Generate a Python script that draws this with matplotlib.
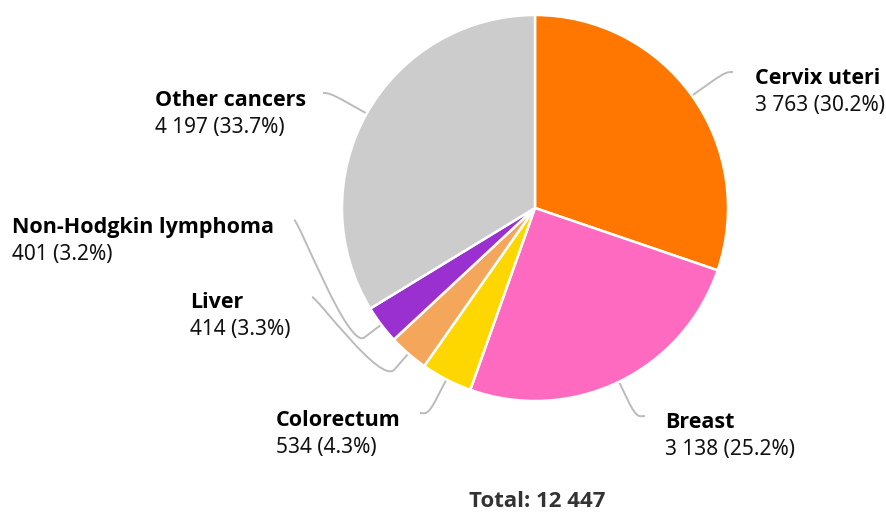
import numpy as np
import matplotlib
matplotlib.use("Agg")
import matplotlib.pyplot as plt
from matplotlib.path import Path
from matplotlib.patches import PathPatch

plt.rcParams['font.family'] = ['Noto Sans', 'DejaVu Sans']
BOLD_FONT = ['Open Sans', 'DejaVu Sans']

# ---- data ----
categories = ["Cervix uteri", "Breast", "Colorectum", "Liver",
              "Non-Hodgkin lymphoma", "Other cancers"]
values = [3763, 3138, 534, 414, 401, 4197]
colors = ["#FF7700", "#FF6AC1", "#FFD700", "#F4A65A", "#9A30D0", "#CCCCCC"]
total = sum(values)

# ---- layout (pixel coords, y from top) ----
W, H = 887, 513
center_px = (535, 208)
radius = 193
# connector end at label side, label text anchor (x, y of first line), alignment
label_layout = {
    "Cervix uteri": ((733, 72), (755, 78), "left"),
    "Breast": ((645, 416), (665, 423), "left"),
    "Colorectum": ((420, 413), (276, 420), "right"),
    "Liver": ((312, 297), (190, 302), "right"),
    "Non-Hodgkin lymphoma": ((294, 220), (12, 227), "right"),
    "Other cancers": ((323, 93), (155, 100), "right"),
}
line_gap = 27
break_dist = 21


def fy(y):
    return H - y


def fmt(n):
    return f"{n:,}".replace(",", " ")


fig = plt.figure(figsize=(W / 100, H / 100), dpi=100)
ax = fig.add_axes([0, 0, 1, 1])
cx, cy = center_px[0], fy(center_px[1])
wedges, _ = ax.pie(values, colors=colors, startangle=90, counterclock=False,
                   center=(cx, cy), radius=radius,
                   wedgeprops=dict(edgecolor="white", linewidth=1.8))
ax.set_xlim(0, W)
ax.set_ylim(0, H)
ax.set_aspect('equal', adjustable='box')
ax.axis('off')

for wdg, cat, val in zip(wedges, categories, values):
    mid = np.deg2rad((wdg.theta1 + wdg.theta2) / 2)
    ux, uy = np.cos(mid), np.sin(mid)
    tx, ty = cx + radius * ux, cy + radius * uy
    bx, by = cx + (radius + break_dist) * ux, cy + (radius + break_dist) * uy
    (lx, lyp), (textx, textyp), align = label_layout[cat]
    ly = fy(lyp)
    c1x = lx + (-5 if align == "left" else 5)
    verts = [(lx, ly), (c1x, ly), (2 * bx - tx, 2 * by - ty), (bx, by), (tx, ty)]
    codes = [Path.MOVETO, Path.CURVE4, Path.CURVE4, Path.CURVE4, Path.LINETO]
    ax.add_patch(PathPatch(Path(verts, codes), facecolor="none",
                           edgecolor="#BBBBBB", linewidth=1.4, zorder=0))
    pct = val / total * 100
    ax.text(textx, fy(textyp), cat, fontsize=15.5, fontweight="bold",
            family=BOLD_FONT, color="#000000", ha="left", va="center")
    ax.text(textx, fy(textyp + line_gap), f"{fmt(val)} ({pct:.1f}%)",
            fontsize=15, color="#111111", ha="left", va="center")

ax.text(537, fy(502), f"Total: {fmt(total)}", fontsize=16, fontweight="bold",
        family=BOLD_FONT, color="#333333", ha="center", va="center")

fig.savefig("out.png", dpi=100)
